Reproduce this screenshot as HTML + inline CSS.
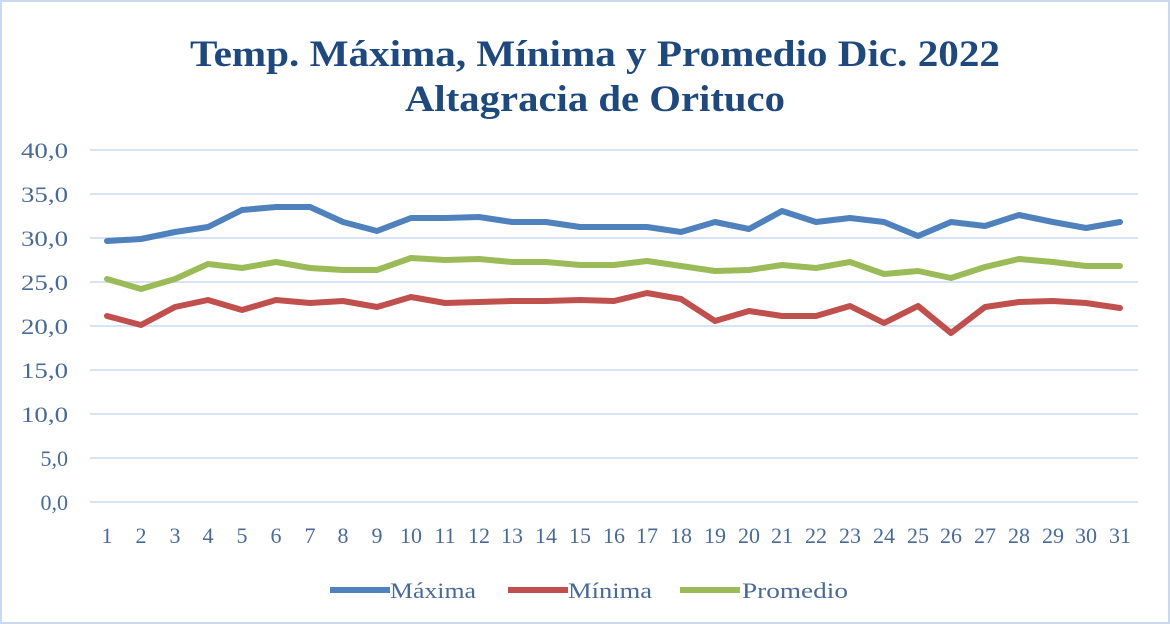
<!DOCTYPE html>
<html><head><meta charset="utf-8"><style>
html,body{margin:0;padding:0;background:#fff}
svg{display:block}
</style></head><body>
<svg width="1170" height="624" xmlns="http://www.w3.org/2000/svg" font-family="Liberation Serif, serif">
<rect x="1" y="1" width="1168" height="622" fill="#fff" stroke="#c9d9ee" stroke-width="2"/>
<text x="595" y="66" text-anchor="middle" font-size="37" font-weight="bold" fill="#1f497d" textLength="810" lengthAdjust="spacingAndGlyphs">Temp. Máxima, Mínima y Promedio Dic. 2022</text>
<text x="595" y="111" text-anchor="middle" font-size="37" font-weight="bold" fill="#1f497d" textLength="380" lengthAdjust="spacingAndGlyphs">Altagracia de Orituco</text>
<g stroke="#d6e4f5" stroke-width="2">
<line x1="90" x2="1138" y1="150" y2="150"/><line x1="90" x2="1138" y1="194" y2="194"/>
<line x1="90" x2="1138" y1="238" y2="238"/><line x1="90" x2="1138" y1="282" y2="282"/>
<line x1="90" x2="1138" y1="326" y2="326"/><line x1="90" x2="1138" y1="370" y2="370"/>
<line x1="90" x2="1138" y1="414" y2="414"/><line x1="90" x2="1138" y1="458" y2="458"/>
<line x1="90" x2="1138" y1="502" y2="502"/>
</g>
<g font-size="22" fill="#4a6a94" text-anchor="end">
<text x="68" y="158" textLength="47" lengthAdjust="spacingAndGlyphs">40,0</text><text x="68" y="202" textLength="47" lengthAdjust="spacingAndGlyphs">35,0</text><text x="68" y="246" textLength="47" lengthAdjust="spacingAndGlyphs">30,0</text>
<text x="68" y="290" textLength="47" lengthAdjust="spacingAndGlyphs">25,0</text><text x="68" y="334" textLength="47" lengthAdjust="spacingAndGlyphs">20,0</text><text x="68" y="378" textLength="47" lengthAdjust="spacingAndGlyphs">15,0</text>
<text x="68" y="422" textLength="47" lengthAdjust="spacingAndGlyphs">10,0</text><text x="68" y="466">5,0</text><text x="68" y="510">0,0</text>
</g>
<g font-size="22" fill="#4a6a94" text-anchor="middle">
<text x="107" y="543">1</text><text x="141" y="543">2</text><text x="175" y="543">3</text><text x="208" y="543">4</text><text x="242" y="543">5</text><text x="276" y="543">6</text><text x="310" y="543">7</text><text x="343" y="543">8</text><text x="377" y="543">9</text><text x="411" y="543">10</text><text x="445" y="543">11</text><text x="479" y="543">12</text><text x="512" y="543">13</text><text x="546" y="543">14</text><text x="580" y="543">15</text><text x="614" y="543">16</text><text x="647" y="543">17</text><text x="681" y="543">18</text><text x="715" y="543">19</text><text x="749" y="543">20</text><text x="782" y="543">21</text><text x="816" y="543">22</text><text x="850" y="543">23</text><text x="884" y="543">24</text><text x="918" y="543">25</text><text x="951" y="543">26</text><text x="985" y="543">27</text><text x="1019" y="543">28</text><text x="1053" y="543">29</text><text x="1086" y="543">30</text><text x="1120" y="543">31</text>
</g>
<g fill="none" stroke-width="6" stroke-linejoin="round" stroke-linecap="round">
<polyline stroke="#4f81bd" points="107,241 141,239 175,232 208,227 242,210 276,207 310,207 343,222 377,231 411,218 445,218 479,217 512,222 546,222 580,227 614,227 647,227 681,232 715,222 749,229 782,211 816,222 850,218 884,222 918,236 951,222 985,226 1019,215 1053,222 1086,228 1120,222"/>
<polyline stroke="#9bbb59" points="107,279 141,289 175,279 208,264 242,268 276,262 310,268 343,270 377,270 411,258 445,260 479,259 512,262 546,262 580,265 614,265 647,261 681,266 715,271 749,270 782,265 816,268 850,262 884,274 918,271 951,278 985,267 1019,259 1053,262 1086,266 1120,266"/>
<polyline stroke="#c0504d" points="107,316 141,325 175,307 208,300 242,310 276,300 310,303 343,301 377,307 411,297 445,303 479,302 512,301 546,301 580,300 614,301 647,293 681,299 715,321 749,311 782,316 816,316 850,306 884,323 918,306 951,333 985,307 1019,302 1053,301 1086,303 1120,308"/>
</g>
<g stroke-width="6">
<line x1="330" x2="390" y1="590" y2="590" stroke="#4f81bd"/>
<line x1="508" x2="568" y1="590" y2="590" stroke="#c0504d"/>
<line x1="680" x2="740" y1="590" y2="590" stroke="#9bbb59"/>
</g>
<g font-size="22" fill="#4a6a94">
<text x="390" y="598" textLength="86" lengthAdjust="spacingAndGlyphs">Máxima</text><text x="568" y="598" textLength="84" lengthAdjust="spacingAndGlyphs">Mínima</text><text x="742" y="598" textLength="106" lengthAdjust="spacingAndGlyphs">Promedio</text>
</g>
</svg>
</body></html>
